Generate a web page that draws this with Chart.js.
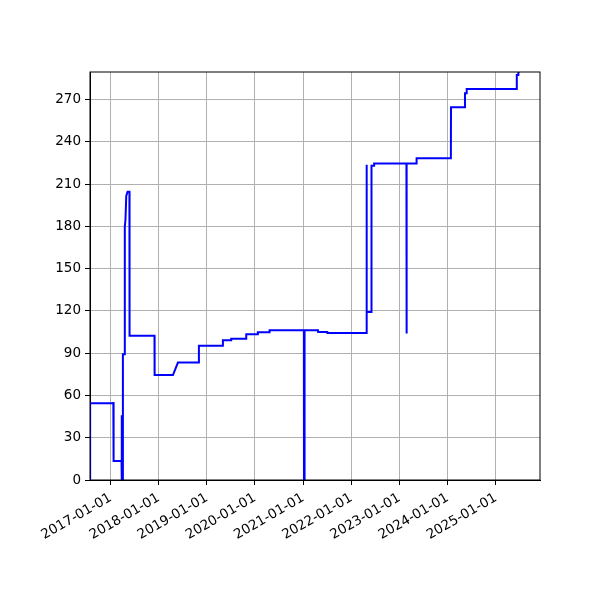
<!DOCTYPE html>
<html>
<head>
<meta charset="utf-8">
<script src="https://cdn.jsdelivr.net/npm/chart.js@4"></script>
<style>
  body { margin: 0; background: #fff; }
</style>
</head>
<body>
<canvas id="grafico" width="600" height="600"></canvas>
<script>
// fechas y valores
const fechas = [
  '2016-07-29', '2016-07-30', '2017-01-22', '2017-01-23', '2017-01-24', '2017-01-25',
  '2017-03-25', '2017-03-26', '2017-03-28', '2017-03-30', '2017-04-04', '2017-04-05',
  '2017-04-18', '2017-04-19', '2017-04-24', '2017-04-30', '2017-05-10', '2017-05-24',
  '2017-05-25', '2017-11-30', '2017-12-01', '2018-04-19', '2018-05-27', '2018-11-01',
  '2018-11-02', '2019-05-02', '2019-05-03', '2019-07-04', '2019-07-05', '2019-10-26',
  '2019-10-27', '2020-01-22', '2020-01-23', '2020-04-20', '2020-04-21', '2021-01-06',
  '2021-01-07', '2021-01-08', '2021-01-11', '2021-01-12', '2021-04-23', '2021-04-24',
  '2021-07-03', '2021-07-04', '2022-04-26', '2022-04-27', '2022-04-28', '2022-06-02',
  '2022-06-03', '2022-06-22', '2022-06-23', '2023-02-23', '2023-02-24', '2023-02-25',
  '2023-05-10', '2023-05-11', '2024-01-26', '2024-01-27', '2024-05-11', '2024-05-12',
  '2024-05-24', '2024-05-25', '2025-06-08', '2025-06-09', '2025-06-20', '2025-06-21',
  '2025-06-30'
];
const valores = [
  0, 54.4, 54.4, 55.4, 55.4, 13.5,
  13.5, 0, 46, 0, 0, 89.2,
  89.2, 180, 184.5, 201.5, 204.6, 204.6,
  102.4, 102.4, 74.5, 74.5, 83.3, 83.3,
  95.3, 95.3, 99.1, 99.1, 100.3, 100.3,
  103.4, 103.4, 104.8, 104.8, 106.2, 106.2,
  0, 106.2, 0, 106.2, 106.2, 105,
  105, 104.3, 104.3, 223.6, 119.2, 119.2,
  223, 223, 224.5, 224.5, 104, 224.5,
  224.5, 228.3, 228.3, 264.5, 264.5, 274.4,
  274.4, 277.5, 277.5, 287.4, 287.4, 289.5,
  290
];
const ticksX = ['2017-01-01', '2018-01-01', '2019-01-01', '2020-01-01', '2021-01-01',
  '2022-01-01', '2023-01-01', '2024-01-01', '2025-01-01'];
const ticksY = [0, 30, 60, 90, 120, 150, 180, 210, 240, 270];

const xMin = Date.parse('2016-07-29');
const xMax = Date.parse('2025-12-02');

function aFecha(v) {
  return new Date(v).toISOString().slice(0, 10);
}

const marco = {
  id: 'marco',
  beforeDraw(chart) {
    const ctx = chart.ctx;
    ctx.save();
    ctx.fillStyle = '#fff';
    ctx.fillRect(0, 0, chart.width, chart.height);
    ctx.restore();
  },
  afterDraw(chart) {
    const a = chart.chartArea;
    const ctx = chart.ctx;
    ctx.save();
    ctx.strokeStyle = '#000';
    ctx.lineWidth = 1;
    ctx.strokeRect(a.left, a.top, a.right - a.left, a.bottom - a.top);
    ctx.restore();
  }
};

const ctx = document.getElementById('grafico').getContext('2d');
new Chart(ctx, {
  type: 'line',
  data: {
    datasets: [{
      data: fechas.map((f, i) => ({ x: Date.parse(f), y: valores[i] })),
      borderColor: '#0000ff',
      borderWidth: 2,
      pointRadius: 0,
      fill: false,
      tension: 0
    }]
  },
  options: {
    responsive: false,
    devicePixelRatio: 1,
    animation: false,
    layout: { padding: { left: 0, top: 72, right: 60, bottom: 0 } },
    plugins: { legend: { display: false }, tooltip: { enabled: false } },
    scales: {
      x: {
        type: 'linear',
        min: xMin,
        max: xMax,
        afterBuildTicks: s => { s.ticks = ticksX.map(t => ({ value: Date.parse(t) })); },
        afterFit: s => { s.height = 120; },
        grid: { color: '#b0b0b0', lineWidth: 1, tickColor: '#000', tickLength: 5 },
        border: { color: '#000', width: 1 },
        ticks: {
          autoSkip: false,
          minRotation: 30,
          maxRotation: 30,
          padding: 5,
          color: '#000',
          font: { family: 'DejaVu Sans', size: 13.5 },
          callback: v => aFecha(v)
        }
      },
      y: {
        type: 'linear',
        min: 0,
        max: 289.5,
        afterBuildTicks: s => { s.ticks = ticksY.map(t => ({ value: t })); },
        afterFit: s => { s.width = 90; },
        grid: { color: '#b0b0b0', lineWidth: 1, tickColor: '#000', tickLength: 5 },
        border: { color: '#000', width: 1 },
        ticks: {
          padding: 4,
          color: '#000',
          font: { family: 'DejaVu Sans', size: 13.5 }
        }
      }
    }
  },
  plugins: [marco]
});
</script>
</body>
</html>
